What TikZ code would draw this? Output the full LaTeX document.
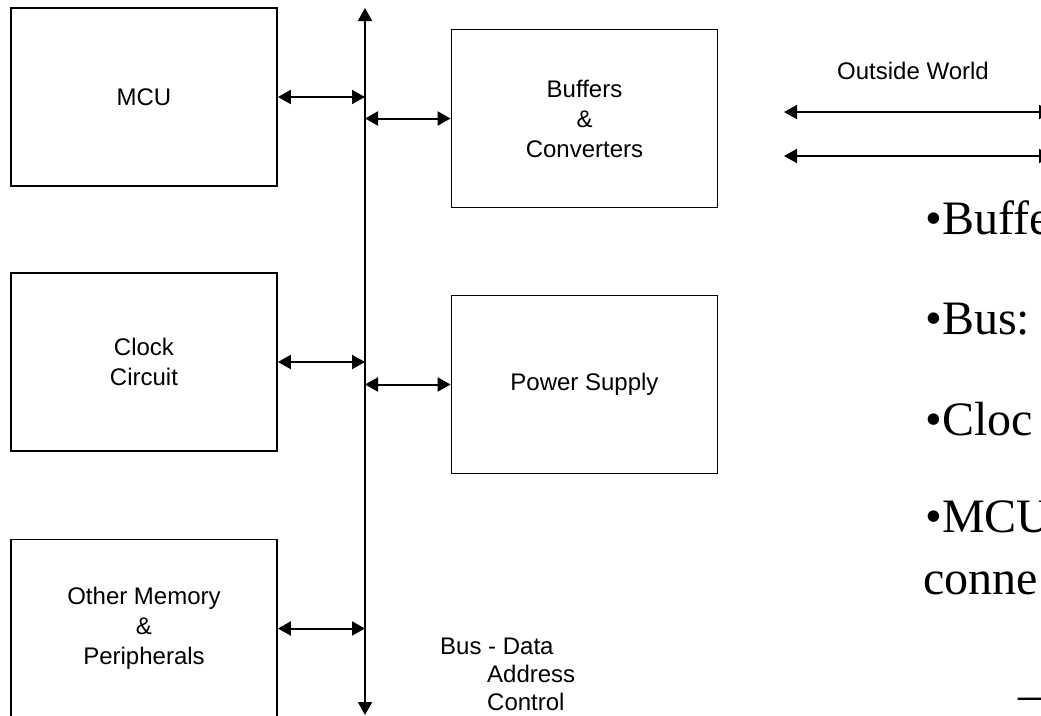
\documentclass[tikz,border=0pt]{standalone}
\usepackage{fontspec}
\setmainfont{Liberation Serif}
\newfontfamily\arialfont{Liberation Sans}
\usepackage{tikz}
\usetikzlibrary{arrows.meta,positioning}

\begin{document}
\begin{tikzpicture}
[x=1pt,y=-1pt,
>={Triangle[length=13pt,width=14pt]},
block/.style ={draw, line width=1.8pt, minimum width=266pt, minimum height=178pt,
inner sep=0pt, align=center, font=\arialfont\fontsize{24}{30}\selectfont},
line/.style ={line width=2pt},
txt/.style ={inner sep=0pt, font=\arialfont\fontsize{24}{28}\selectfont},
bullettext/.style ={inner sep=0pt, anchor=base west, font=\fontsize{48}{58}\selectfont}]
\useasboundingbox (0,0) rectangle (1041,715);
\clip (0,0) rectangle (1041,715);
%\draw [help lines] (0,0) grid (1041,715);
\node [block]                (mcu)   at (144, 97)        {MCU};
\node [block]                (clk)   at (144, 362)       {Clock\\Circuit};
\node [block]                (mem)   at (144, 628.5)     {Other Memory\\\&\\Peripherals};
\node [block]                (buf)   at (584.5, 118.5)   {Buffers\\\&\\Converters};
\node [block]                (pwr)   at (584.5, 384.5)   {Power Supply};

\coordinate (bt) at (365, 8);
\coordinate (bb) at (365, 715);
\draw [line,<->] (bt) to (bb);

\draw [line,<->] (mcu) to (mcu -| bt);
\draw [line,<->] (clk) to (clk -| bt);
\draw [line,<->] (mem) to (mem -| bt);
\draw [line,<->] (buf) to (buf -| bt);
\draw [line,<->] (pwr) to (pwr -| bt);

\node [txt, anchor=north west, align=left] (bus) at (440, 638)
  {Bus - Data\\\hspace*{47pt}Address\\\hspace*{47pt}Control};

\node [txt, anchor=base]     (ow)    at (913, 79)        {Outside World};
\coordinate (ow1) at (784, 112);
\coordinate (ow2) at (1052, 112);
\coordinate (ow3) at (784, 156);
\coordinate (ow4) at (1052, 156);
\draw [line,<->] (ow1) to (ow2);
\draw [line,<->] (ow3) to (ow4);

\node [bullettext]           (bf)    at (925, 234)       {•Buffe};
\node [bullettext]           (bs)    at (925, 334)       {•Bus:};
\node [bullettext]           (ck)    at (925, 435)       {•Cloc};
\node [bullettext]           (mc)    at (925, 532)       {•MCU};
\node [bullettext]           (cn)    at (923, 594)       {conne};
\node [bullettext]           (dh)    at (1018, 710)      {–};
\end{tikzpicture}
\end{document}
